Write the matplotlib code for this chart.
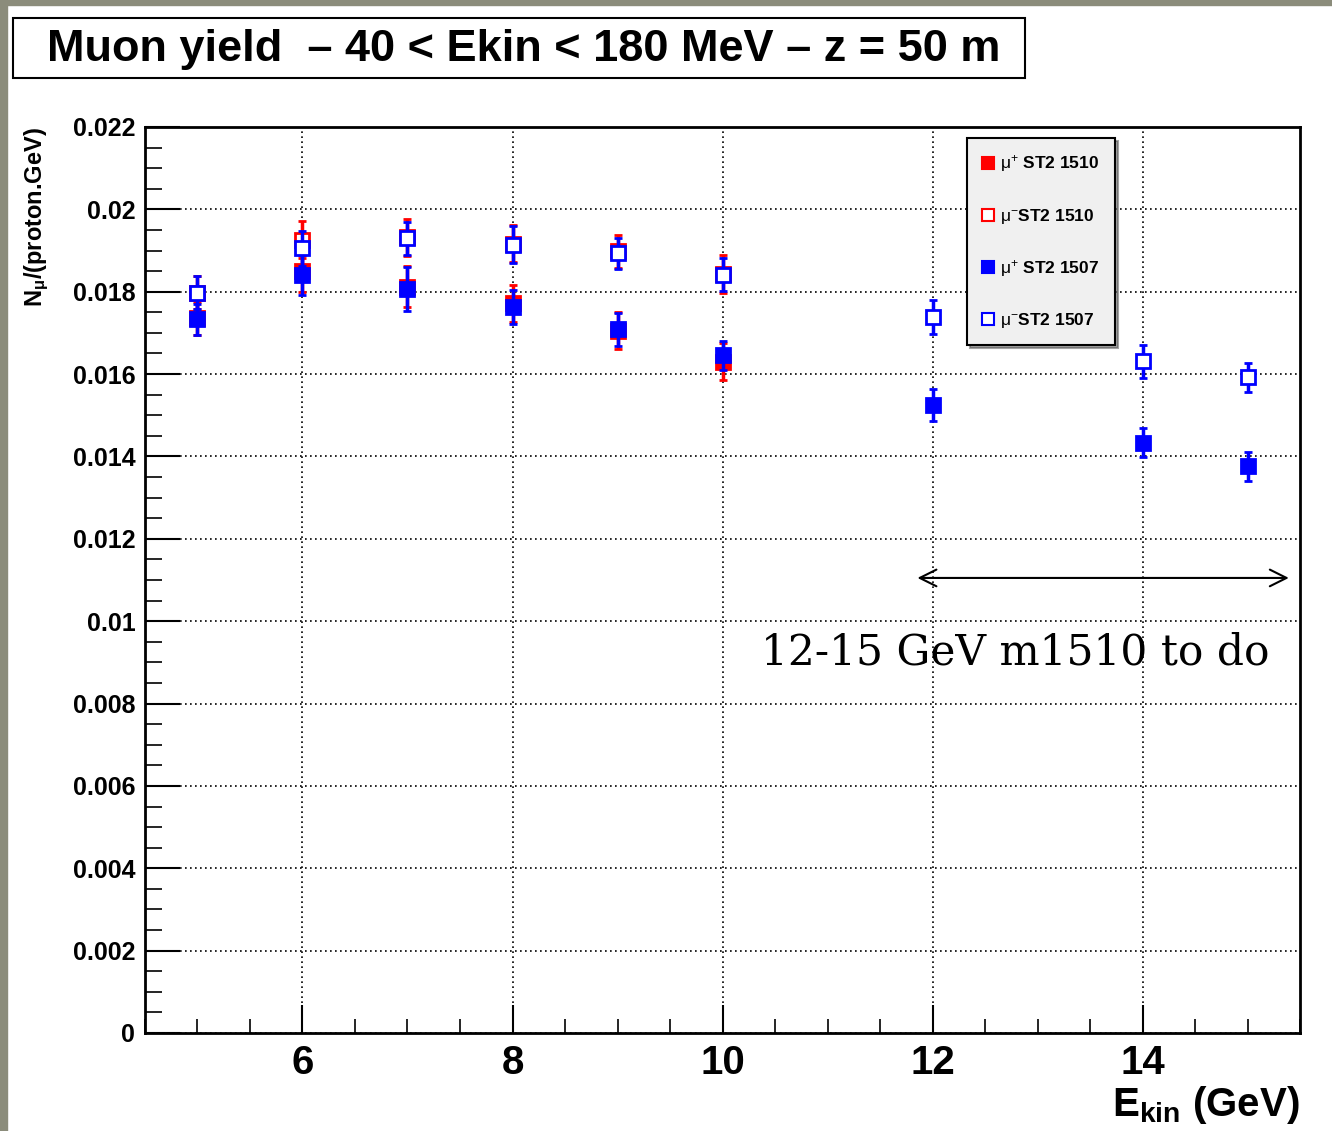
"""Muon yield vs proton kinetic energy, ROOT-style plot."""

import matplotlib
matplotlib.use("Agg")
import matplotlib.pyplot as plt
from matplotlib.lines import Line2D
from matplotlib.patches import Rectangle
from matplotlib.ticker import MultipleLocator, FormatStrFormatter

plt.rcParams["font.family"] = ["Liberation Sans", "DejaVu Sans"]
plt.rcParams["mathtext.fontset"] = "custom"
plt.rcParams["mathtext.rm"] = "Liberation Sans"
plt.rcParams["mathtext.bf"] = "Liberation Sans:bold"
plt.rcParams["mathtext.it"] = "Liberation Sans:italic"

# --- data ---
ekin_1510 = [5, 6, 7, 8, 9, 10]
mup_1510 = [0.01735, 0.01850, 0.01812, 0.01772, 0.01705, 0.01630]
mup_1510_err = [0.00040, 0.00050, 0.00050, 0.00045, 0.00045, 0.00045]
mum_1510 = [0.01797, 0.01926, 0.01932, 0.01916, 0.01898, 0.01843]
mum_1510_err = [0.00040, 0.00045, 0.00045, 0.00045, 0.00040, 0.00045]

ekin_1507 = [5, 6, 7, 8, 9, 10, 12, 14, 15]
mup_1507 = [0.01733, 0.01840, 0.01806, 0.01763, 0.01709, 0.01646, 0.01525, 0.01433, 0.01376]
mup_1507_err = [0.00037, 0.00048, 0.00053, 0.00042, 0.00040, 0.00035, 0.00040, 0.00035, 0.00035]
mum_1507 = [0.01797, 0.01905, 0.01930, 0.01914, 0.01893, 0.01841, 0.01739, 0.01631, 0.01592]
mum_1507_err = [0.00040, 0.00042, 0.00040, 0.00045, 0.00038, 0.00040, 0.00042, 0.00040, 0.00035]

labels = [r"$\mathrm{\mu}^{+}$ ST2 1510", r"$\mathrm{\mu}^{-}$ST2 1510",
          r"$\mathrm{\mu}^{+}$ ST2 1507", r"$\mathrm{\mu}^{-}$ST2 1507"]

W, H = 1332, 1131
fig = plt.figure(figsize=(W / 100, H / 100), dpi=100)
ax = fig.add_axes([145 / W, 1 - 1033 / H, 1155 / W, 906 / H])

# slide frame (olive strip top and left)
frame_col = "#8b8c7b"
fig.patches.append(Rectangle((0, 1 - 5 / H), 1, 5 / H, transform=fig.transFigure,
                             color=frame_col, zorder=0))
fig.patches.append(Rectangle((0, 0), 7 / W, 1, transform=fig.transFigure,
                             color=frame_col, zorder=0))

red, blue = "#ff0000", "#0000ff"
series = [
    (ekin_1510, mup_1510, mup_1510_err, red, True),
    (ekin_1510, mum_1510, mum_1510_err, red, False),
    (ekin_1507, mup_1507, mup_1507_err, blue, True),
    (ekin_1507, mum_1507, mum_1507_err, blue, False),
]
handles = []
for i, (x, y, e, c, filled) in enumerate(series):
    ax.errorbar(x, y, yerr=e, fmt="s", color=c, ecolor=c, elinewidth=2.5,
                capsize=3, capthick=2.5, markersize=10, markeredgewidth=2,
                markerfacecolor=c if filled else "white", markeredgecolor=c,
                zorder=3 + i)
    handles.append(Line2D([], [], ls="none", marker="s", markersize=8,
                          markeredgewidth=1.5, color=c,
                          markerfacecolor=c if filled else "white"))

ax.set_xlim(4.5, 15.5)
ax.set_ylim(0, 0.022)
ax.xaxis.set_major_locator(MultipleLocator(2))
ax.xaxis.set_minor_locator(MultipleLocator(0.5))
ax.yaxis.set_major_locator(MultipleLocator(0.002))
ax.yaxis.set_minor_locator(MultipleLocator(0.0005))
ax.yaxis.set_major_formatter(FormatStrFormatter("%g"))
ax.grid(True, which="major", color="black", linestyle=(0, (1, 2)), linewidth=1.2)
ax.set_axisbelow(True)

ax.tick_params(axis="x", which="major", direction="in", length=20, width=1.5,
               labelsize=29, pad=8)
ax.tick_params(axis="x", which="minor", direction="in", length=10, width=1.2)
ax.tick_params(axis="y", which="major", direction="in", length=25, width=1.5,
               labelsize=18, pad=7)
ax.tick_params(axis="y", which="minor", direction="in", length=12, width=1.2)
for lab in ax.get_xticklabels() + ax.get_yticklabels():
    lab.set_fontweight("bold")
for sp in ax.spines.values():
    sp.set_linewidth(2)

ax.text(1.0, -0.08, r"E$_{\mathbf{kin}}$ (GeV)", transform=ax.transAxes,
        ha="right", va="center", fontsize=29, fontweight="bold")
ax.text(-0.0935, 1.0, r"N$_{\mathbf{\mu}}$/(proton.GeV)", transform=ax.transAxes,
        rotation=90, ha="center", va="top", fontsize=17, fontweight="bold")

leg = ax.legend(handles, labels, loc="upper left", bbox_to_anchor=(0.712, 0.988),
                borderaxespad=0, prop={"size": 12.5, "weight": "bold"},
                labelspacing=1.85, borderpad=0.9, handlelength=0.6,
                handletextpad=0.4, fancybox=False, shadow=True, framealpha=1)
leg.get_frame().set_facecolor("#f0f0f0")
leg.get_frame().set_edgecolor("black")
leg.get_frame().set_linewidth(1.5)
leg.set_zorder(10)

# annotation
ax.annotate("", xy=(15.42, 0.01105), xytext=(11.83, 0.01105),
            arrowprops=dict(arrowstyle="<->", lw=1.5, mutation_scale=30, color="black"))
ax.text(10.37, 0.00925, "12-15 GeV m1510 to do", ha="left", va="center",
        fontsize=30.5, family="DejaVu Serif")

# title box
fig.patches.append(Rectangle((13 / W, 1 - 78 / H), 1012 / W, 60 / H,
                             transform=fig.transFigure, fill=False,
                             edgecolor="black", linewidth=1.5))
fig.text(524 / W, 1 - 49 / H, "Muon yield  \u2013 40 < Ekin < 180 MeV \u2013 z = 50 m",
         ha="center", va="center", fontsize=32.5, fontweight="bold")

fig.savefig("out.png", dpi=100)
